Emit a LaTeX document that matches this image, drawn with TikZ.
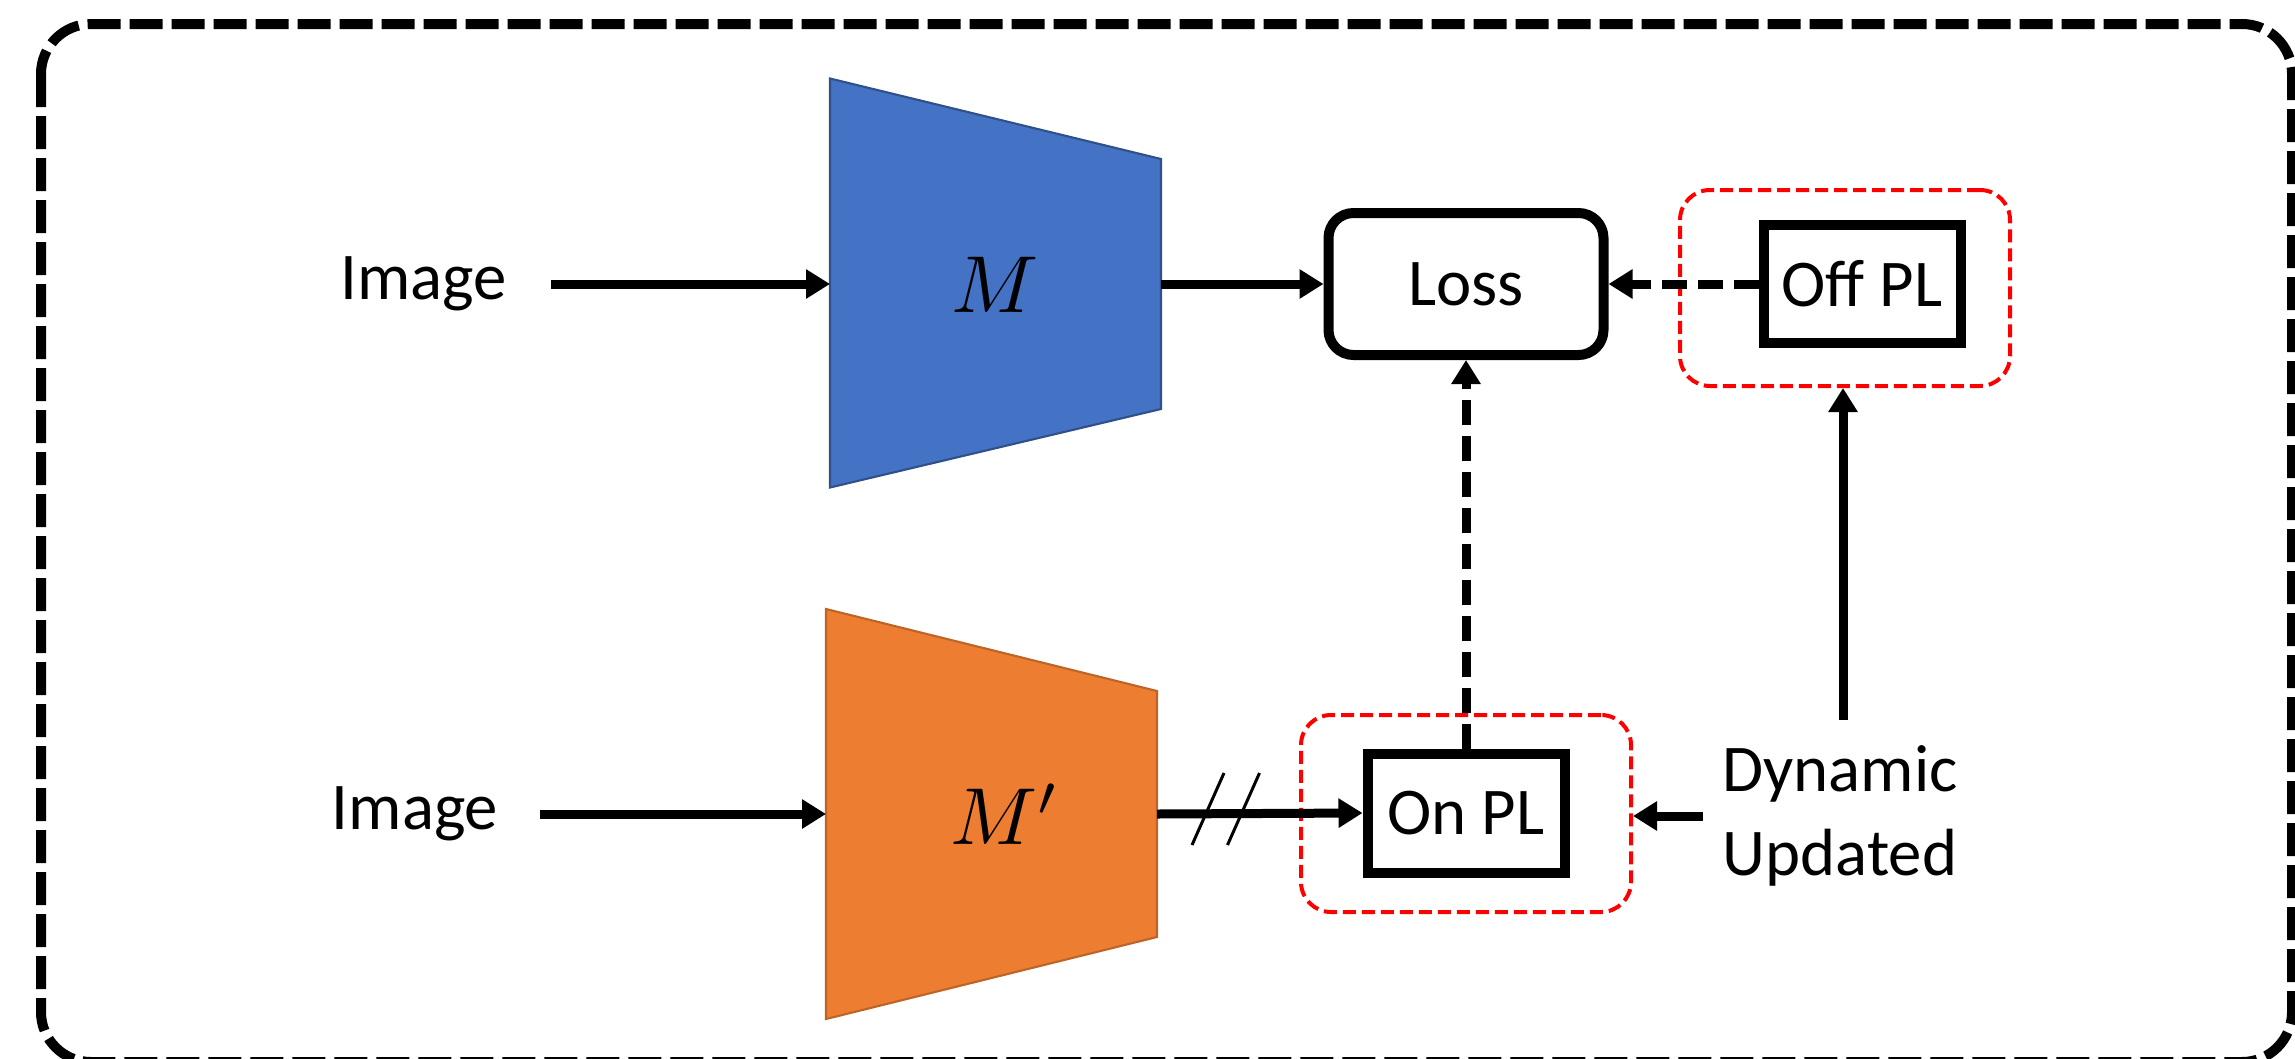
\documentclass[tikz,border=0pt]{standalone}
\usepackage{fontspec}
\setmainfont{Carlito}
\usepackage{tikz}
\usetikzlibrary{arrows.meta,
                shapes.geometric}

\definecolor{encblue}{HTML}{4472C4}
\definecolor{encorange}{HTML}{ED7D31}

\tikzset{
  txt/.style   = {font=\fontsize{19}{24}\selectfont, inner sep=0pt},
  plbox/.style = {draw, line width=0.1cm, txt, minimum width=1.97cm, minimum height=1.18cm},
  redbox/.style = {draw=red, line width=0.04cm, dash pattern=on 0.13cm off 0.06cm,
                   rounded corners=0.3cm, minimum width=3.3cm, minimum height=1.96cm},
  arr/.style   = {line width=0.09cm, -{Triangle[length=0.24cm,width=0.28cm]}},
  darr/.style  = {arr, dash pattern=on 0.25cm off 0.11cm},
  slash/.style = {line width=0.03cm}
}

\begin{document}
\begin{tikzpicture}
\useasboundingbox (0,0) rectangle (22.95,10.58);
%%% outer frame
\draw[line width=0.1cm, dash pattern=on 0.33cm off 0.09cm, rounded corners=0.5cm]
  (0.41,10.34) rectangle (22.92,-0.04);

%%% encoders
\draw[fill=encblue, draw=encblue!70!black, line width=0.6pt]
  (8.30,9.795) -- (11.61,8.99) -- (11.61,6.49) -- (8.30,5.705) -- cycle;
\draw[fill=encorange, draw=encorange!80!black, line width=0.6pt]
  (8.26,4.49) -- (11.57,3.67) -- (11.57,1.21) -- (8.26,0.39) -- cycle;
\coordinate (M in)  at (8.30,7.74);
\coordinate (M out) at (11.61,7.74);
\coordinate (Mp in)  at (8.26,2.44);
\coordinate (Mp out) at (11.57,2.44);
\node (M)  at (9.95,7.73) {\scalebox{2.3}{$M$}};
\node (Mp) at (10.05,2.44) {\scalebox{2.3}{$M'$}};

%%% inputs
\node (img1) [txt, inner xsep=0.44cm] at (4.235,7.74) {Image};
\node (img2) [txt, inner xsep=0.41cm] at (4.15,2.44) {Image};

%%% loss and pseudo labels
\node (loss) [draw, line width=0.1cm, rounded corners=0.25cm, txt,
              minimum width=2.75cm, minimum height=1.42cm] at (14.66,7.74) {Loss};
\node (offbox) [redbox] at (18.45,7.70) {};
\node (offpl) [plbox, minimum height=1.175cm] at (18.62,7.74) {Off PL};
\node (onbox) [redbox, minimum height=1.97cm] at (14.66,2.445) {};
\node (onpl) [plbox, minimum height=1.19cm] at (14.66,2.45) {On PL};
\node (dyn) [txt, align=center, inner xsep=0.19cm, inner ysep=0.25cm] at (18.40,2.42)
  {Dynamic\\Updated};

%%% connectors
\draw[arr] (img1.east) -- (M in);
\draw[arr] (img2.east) -- (Mp in);
\draw[arr] (M out) -- (loss.west);
\draw[arr] (Mp out) -- (onpl.west);
\foreach \dx in {0,0.355} {
    \draw[slash] (11.92+\dx,2.13) -- ++(0.32,0.72);
}
\draw[darr] (offpl.west) -- (loss.east);
\draw[darr] (onpl.north) -- (loss.south);
\draw[arr] (dyn.west) -- (dyn.west -| onbox.east);
\draw[arr] ([xshift=0.03cm]dyn.north) -- ([xshift=0.03cm]dyn.north |- offbox.south);
\end{tikzpicture}
\end{document}
